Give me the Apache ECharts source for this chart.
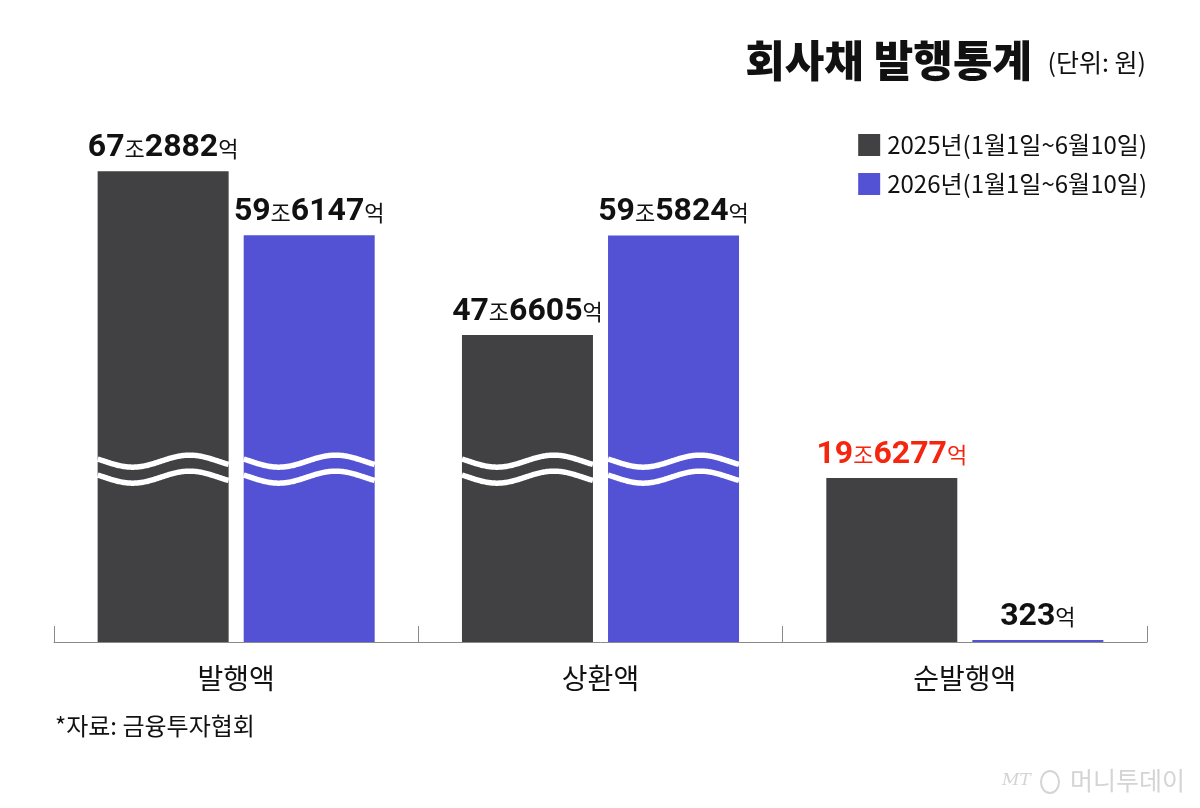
<!DOCTYPE html>
<html>
<head>
<meta charset="utf-8">
<script src="https://cdn.jsdelivr.net/npm/echarts@6/dist/echarts.min.js"></script>
<style>
  html, body { margin: 0; padding: 0; background: #fff; }
  #chart { width: 1200px; height: 808px; }
</style>
</head>
<body>
<div id="chart"></div>
<script>
(function () {
  'use strict';

  // 단위: 억원
  const categories = ['발행액', '상환액', '순발행액'];
  const seriesNames = ['2025년(1월1일~6월10일)', '2026년(1월1일~6월10일)'];
  const values2025 = [672882, 476605, 196277];
  const values2026 = [596147, 595824, 323];

  // 물결로 생략하는 y축 구간
  const breakStart = 207000;
  const breakEnd = 316000;
  const axisMax = 800000;

  const KR = "'Noto Sans CJK KR', 'Noto Sans', sans-serif";
  const NUM = "Roboto, 'Liberation Sans', sans-serif";
  const colors = ['#414042', '#5352d4'];
  const BAR_W = 131;
  const BAR_GAP = 0.115;

  function fmt(v) {
    const jo = Math.floor(v / 10000);
    const eok = v % 10000;
    return jo > 0 ? [String(jo), '조', String(eok), '억'] : [String(eok), '억'];
  }

  function labelFormatter(p) {
    const red = p.seriesIndex === 0 && p.name === '순발행액';
    const n = red ? 'nr' : 'n';
    const u = red ? 'ur' : 'u';
    return fmt(p.value).map(function (s, i) {
      return '{' + (i % 2 === 0 ? n : u) + '|' + s + '}';
    }).join('');
  }

  const rich = {
    n: { fontFamily: NUM, fontWeight: 'bold', fontSize: 32, color: '#111', lineHeight: 36 },
    u: { fontFamily: KR, fontSize: 22, color: '#111', lineHeight: 36 },
    nr: { fontFamily: NUM, fontWeight: 'bold', fontSize: 32, color: '#f5260f', lineHeight: 36 },
    ur: { fontFamily: KR, fontSize: 22, color: '#f5260f', lineHeight: 36 }
  };

  const waveData = [];
  [values2025, values2026].forEach(function (vals, si) {
    vals.forEach(function (v, ci) {
      if (v > breakEnd) waveData.push([ci, breakStart, si]);
    });
  });

  function renderWave(params, api) {
    const ci = api.value(0);
    const si = api.value(2);
    const pt = api.coord([ci, api.value(1)]);
    const groupW = BAR_W * (2 + BAR_GAP);
    const left = pt[0] - groupW / 2 + si * BAR_W * (1 + BAR_GAP);
    const lines = [-8, 8].map(function (off) {
      const pts = [];
      for (let x = 0; x <= BAR_W; x += 1) {
        pts.push([left + x, pt[1] + off - 6 * Math.cos(2 * Math.PI * (x - 92) / 114)]);
      }
      return {
        type: 'polyline',
        shape: { points: pts },
        style: { stroke: '#fff', lineWidth: 5.5, fill: null }
      };
    });
    return { type: 'group', children: lines };
  }

  const chart = echarts.init(document.getElementById('chart'), null, { renderer: 'canvas' });

  chart.setOption({
    animation: false,
    backgroundColor: '#fff',
    color: colors,
    title: [
      {
        text: '회사채 발행통계',
        right: 168, top: 39, padding: 0,
        textStyle: { fontFamily: KR, fontWeight: 900, fontSize: 43, color: '#111' }
      },
      {
        text: '(단위: 원)',
        right: 54, top: 50, padding: 0,
        textStyle: { fontFamily: KR, fontWeight: 'normal', fontSize: 25, color: '#111' }
      }
    ],
    legend: {
      data: seriesNames,
      orient: 'vertical',
      right: 53, top: 133, padding: 0,
      itemWidth: 22, itemHeight: 22, itemGap: 15,
      icon: 'rect',
      textStyle: { fontFamily: KR, fontSize: 24, color: '#111', padding: [0, 0, 0, 2] }
    },
    grid: { left: 54, right: 53, top: 65, bottom: 166 },
    xAxis: {
      type: 'category',
      data: categories,
      axisLine: { show: true, lineStyle: { color: '#8a8a8a', width: 1 } },
      axisTick: { show: true, inside: true, length: 16, lineStyle: { color: '#8a8a8a', width: 1 } },
      axisLabel: { fontFamily: KR, fontSize: 28, color: '#111', margin: 22 }
    },
    yAxis: {
      type: 'value',
      show: false,
      min: 0,
      max: axisMax,
      splitLine: { show: false },
      breaks: [{ start: breakStart, end: breakEnd, gap: 0 }],
      breakArea: { show: false }
    },
    series: [
      {
        name: seriesNames[0],
        type: 'bar',
        data: values2025,
        barWidth: BAR_W,
        barGap: (BAR_GAP * 100) + '%',
        barMinHeight: 2,
        label: { show: true, position: 'top', distance: 5, formatter: labelFormatter, rich: rich }
      },
      {
        name: seriesNames[1],
        type: 'bar',
        data: values2026,
        barWidth: BAR_W,
        barGap: (BAR_GAP * 100) + '%',
        barMinHeight: 2,
        label: { show: true, position: 'top', distance: 5, formatter: labelFormatter, rich: rich }
      },
      {
        type: 'custom',
        data: waveData,
        encode: { x: 0, y: 1 },
        renderItem: renderWave,
        silent: true,
        z: 5
      }
    ],
    graphic: [
      {
        type: 'text', left: 55, top: 714,
        style: { text: '*자료: 금융투자협회', fontFamily: KR, fontSize: 24, fill: '#111' }
      },
      {
        type: 'group', right: 15, top: 768,
        children: [
          { type: 'text', x: 0, y: 4, style: { text: 'MT', fontFamily: 'DejaVu Serif', fontStyle: 'italic', fontSize: 17, fill: '#d4d4d4' } },
          { type: 'ellipse', shape: { cx: 48, cy: 14, rx: 9, ry: 11 }, style: { fill: null, stroke: '#d4d4d4', lineWidth: 2 } },
          { type: 'text', x: 68, y: 0, style: { text: '머니투데이', fontFamily: KR, fontSize: 25, fill: '#d4d4d4' } }
        ]
      }
    ]
  });

  window.addEventListener('resize', function () { chart.resize(); });
})();
</script>
</body>
</html>
